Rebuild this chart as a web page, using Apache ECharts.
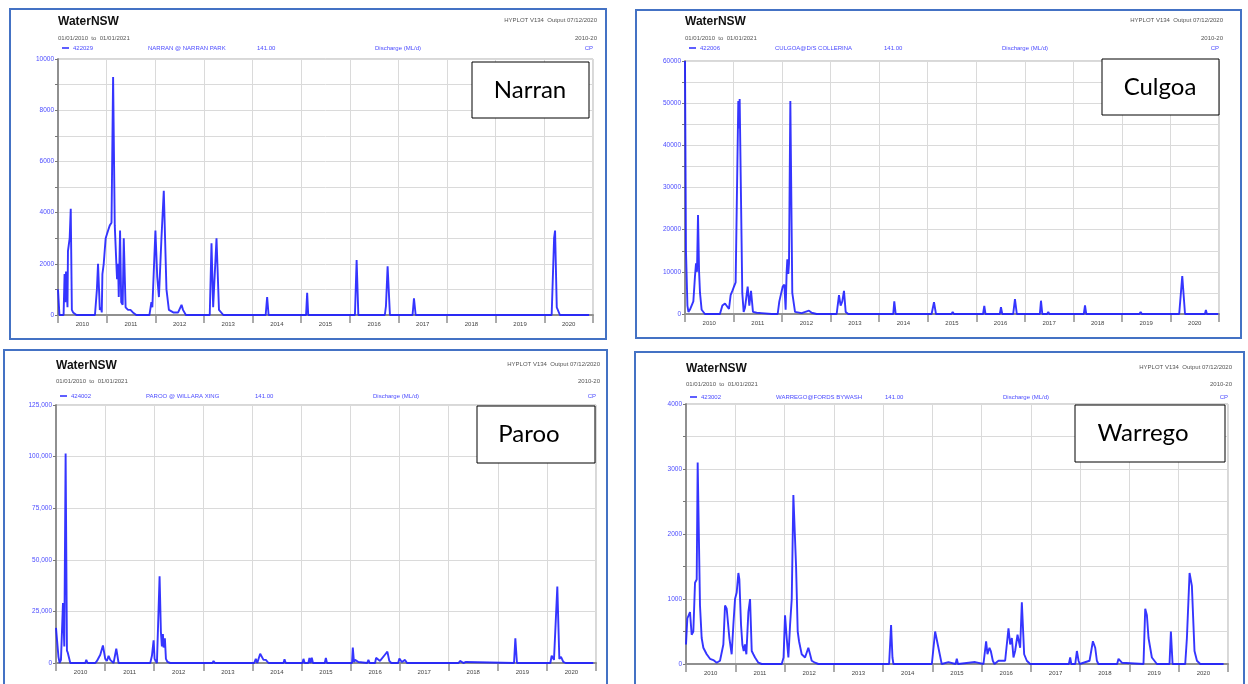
<!DOCTYPE html>
<html><head><meta charset="utf-8">
<script src="https://cdn.jsdelivr.net/npm/echarts@6/dist/echarts.min.js"></script>
<style>html,body{margin:0;padding:0;background:#fff}#c{width:1248px;height:684px}</style>
</head><body><div id="c"></div>
<script>
// ---------- data ----------
const yearLabels = ['2010','2011','2012','2013','2014','2015','2016','2017','2018','2019','2020'];
const narranYTicks = ['0','2000','4000','6000','8000','10000'];
const culgoaYTicks = ['0','10000','20000','30000','40000','50000','60000'];
const parooYTicks = ['0','25,000','50,000','75,000','100,000','125,000'];
const warregoYTicks = ['0','1000','2000','3000','4000'];

// [decimal year, discharge ML/d]
const narranFlow = [[2010.0,1000],[2010.03,0],[2010.115,0],[2010.135,1600],[2010.15,500],[2010.165,1700],[2010.185,1700],[2010.195,300],[2010.205,2500],[2010.24,3000],[2010.262,4150],[2010.285,200],[2010.31,100],[2010.38,0],
[2010.76,0],[2010.8,1000],[2010.823,2000],[2010.86,200],[2010.885,300],[2010.9,100],[2010.913,1600],[2010.94,2000],[2010.98,3000],[2011.03,3300],[2011.065,3500],[2011.1,3600],[2011.133,9300],[2011.167,3500],[2011.2,2000],[2011.214,1400],[2011.235,2000],[2011.249,700],[2011.276,3300],[2011.3,500],[2011.33,400],[2011.352,3000],[2011.39,300],[2011.44,200],[2011.49,200],[2011.54,100],[2011.61,0],
[2011.88,0],[2011.92,500],[2011.94,300],[2012.003,3300],[2012.04,1500],[2012.058,1500],[2012.075,700],[2012.127,3000],[2012.175,4850],[2012.23,1000],[2012.28,200],[2012.37,100],[2012.47,100],[2012.54,400],[2012.57,200],[2012.63,0],
[2013.12,0],[2013.156,2800],[2013.19,300],[2013.225,300],[2013.259,3000],[2013.31,200],[2013.4,0],
[2014.27,0],[2014.3,700],[2014.33,0],
[2015.10,0],[2015.123,870],[2015.145,0],
[2016.105,0],[2016.14,2150],[2016.175,0],
[2016.72,0],[2016.743,350],[2016.777,1900],[2016.825,0],
[2017.29,0],[2017.319,650],[2017.354,0],
[2020.15,0],[2020.2,3000],[2020.22,3300],[2020.255,300],[2020.268,300],[2020.32,0],[2020.92,0]];

const culgoaFlow = [[2010.0,60000],[2010.02,15000],[2010.05,2000],[2010.07,500],[2010.1,1000],[2010.14,1000],[2010.172,3000],[2010.206,9000],[2010.227,12000],[2010.247,10000],[2010.268,23500],[2010.29,10000],[2010.309,5000],[2010.343,1000],[2010.41,0],
[2010.72,0],[2010.77,2000],[2010.824,2500],[2010.858,2700],[2010.906,1200],[2010.94,4500],[2010.975,5500],[2011.009,6500],[2011.043,7500],[2011.098,50500],[2011.112,44000],[2011.126,51000],[2011.18,5000],[2011.208,500],[2011.236,1500],[2011.291,6500],[2011.325,2000],[2011.36,5500],[2011.4,500],[2011.476,300],[2011.58,200],[2011.785,0],
[2011.909,0],[2011.943,3000],[2012.012,6500],[2012.046,7000],[2012.073,1000],[2012.094,10000],[2012.108,13000],[2012.128,9500],[2012.142,12000],[2012.17,50500],[2012.21,5000],[2012.266,500],[2012.403,200],[2012.554,800],[2012.61,300],[2012.712,0],
[2013.124,0],[2013.172,4500],[2013.206,2000],[2013.24,3000],[2013.275,5500],[2013.31,500],[2013.364,0],
[2014.29,0],[2014.311,3000],[2014.34,0],
[2015.08,0],[2015.129,2800],[2015.17,0],[2015.49,0],[2015.514,500],[2015.54,0],
[2016.14,0],[2016.165,1900],[2016.19,0],[2016.485,0],[2016.509,1600],[2016.535,0],[2016.76,0],[2016.797,3550],[2016.835,0],
[2017.31,0],[2017.333,3150],[2017.36,0],[2017.46,0],[2017.483,500],[2017.505,0],
[2018.215,0],[2018.24,2050],[2018.265,0],
[2019.36,0],[2019.386,500],[2019.41,0],
[2020.18,0],[2020.243,9000],[2020.3,0],
[2020.71,0],[2020.73,950],[2020.75,0],[2020.985,0]];

const parooFlow = [[2010.0,17000],[2010.02,17000],[2010.05,3000],[2010.074,0],[2010.101,1500],[2010.121,1500],[2010.142,29000],[2010.169,8000],[2010.196,101500],[2010.223,6000],[2010.24,5000],[2010.257,5000],[2010.291,0],
[2010.597,0],[2010.617,1500],[2010.644,0],
[2010.8,0],[2010.834,1000],[2010.902,4000],[2010.956,8500],[2010.983,8000],[2011.003,2000],[2011.037,1000],[2011.071,3500],[2011.105,1500],[2011.139,1000],[2011.173,0],[2011.207,0],[2011.228,7000],[2011.275,0],
[2011.92,0],[2011.954,3500],[2011.988,11000],[2012.008,2000],[2012.056,0],[2012.09,0],[2012.11,42000],[2012.137,15000],[2012.157,8000],[2012.178,14000],[2012.191,7500],[2012.218,12000],[2012.239,2000],[2012.272,500],[2012.327,0],
[2013.19,0],[2013.209,1000],[2013.237,0],
[2014.037,0],[2014.07,2000],[2014.1,0],[2014.159,4500],[2014.193,4500],[2014.227,1500],[2014.275,1500],[2014.329,0],
[2014.634,0],[2014.655,1800],[2014.68,0],
[2015.02,0],[2015.041,2000],[2015.065,0],[2015.14,0],[2015.163,2500],[2015.185,0],[2015.21,2500],[2015.235,0],[2015.475,0],[2015.497,2500],[2015.52,0],
[2016.03,0],[2016.046,7500],[2016.07,500],[2016.093,1500],[2016.16,500],[2016.2,0],
[2016.34,0],[2016.364,1500],[2016.39,0],[2016.5,0],[2016.52,2500],[2016.6,1000],[2016.7,4000],[2016.75,5500],[2016.79,1000],[2016.83,0],
[2016.97,0],[2016.995,2200],[2017.044,500],[2017.11,1500],[2017.15,0],
[2017.94,0],[2017.96,800],[2017.98,0],[2018.2,0],[2018.23,1000],[2018.3,0],[2018.35,500],[2018.38,0],
[2019.33,0],[2019.357,12000],[2019.39,0],
[2020.07,0],[2020.097,3500],[2020.144,1500],[2020.212,37000],[2020.253,2000],[2020.287,3000],[2020.334,500],[2020.38,0],
[2020.64,0],[2020.66,300],[2020.68,0],[2020.945,0]];

const warregoFlow = [[2010.0,300],[2010.027,700],[2010.061,700],[2010.081,800],[2010.115,450],[2010.149,500],[2010.183,1250],[2010.217,1300],[2010.237,3100],[2010.284,900],[2010.318,400],[2010.352,250],[2010.42,150],[2010.487,80],[2010.555,60],[2010.623,20],[2010.69,50],[2010.724,80],[2010.758,300],[2010.792,900],[2010.826,850],[2010.86,850],[2010.88,400],[2010.927,150],[2010.961,600],[2010.995,1000],[2011.029,1100],[2011.063,1400],[2011.083,1300],[2011.117,600],[2011.144,300],[2011.171,200],[2011.198,300],[2011.225,150],[2011.266,800],[2011.3,1000],[2011.334,200],[2011.367,150],[2011.401,100],[2011.469,20],[2011.537,0],[2011.72,0],[2011.74,30],[2011.76,0],
[2011.943,0],[2011.98,100],[2012.01,750],[2012.044,400],[2012.078,100],[2012.112,600],[2012.146,1000],[2012.179,2600],[2012.213,2600],[2012.234,1500],[2012.267,500],[2012.294,350],[2012.348,150],[2012.416,100],[2012.483,250],[2012.518,150],[2012.551,50],[2012.619,20],[2012.687,0],
[2014.122,0],[2014.162,600],[2014.19,100],[2014.21,0],
[2014.99,0],[2015.056,500],[2015.19,0],[2015.326,30],[2015.35,0],[2015.47,0],[2015.496,80],[2015.52,0],[2015.868,30],[2015.9,0],
[2016.037,0],[2016.091,350],[2016.118,150],[2016.159,250],[2016.186,200],[2016.227,50],[2016.26,0],[2016.342,50],[2016.477,50],[2016.545,550],[2016.579,300],[2016.613,400],[2016.646,100],[2016.68,200],[2016.728,450],[2016.782,250],[2016.816,950],[2016.863,150],[2016.917,50],[2016.985,0],
[2017.77,0],[2017.797,100],[2017.82,0],[2017.9,0],[2017.933,200],[2017.967,50],[2017.99,0],
[2018.19,50],[2018.258,350],[2018.305,250],[2018.339,50],[2018.37,0],
[2018.75,0],[2018.778,80],[2018.846,20],[2018.87,0],
[2019.285,0],[2019.32,850],[2019.354,750],[2019.387,400],[2019.455,100],[2019.557,0],
[2019.813,0],[2019.841,500],[2019.875,0],
[2020.132,0],[2020.166,400],[2020.22,1400],[2020.267,1200],[2020.32,200],[2020.37,50],[2020.437,0],[2020.91,0]];

const gaugeIds = ['422029','422006','424002','423002'];
const siteNames = ['NARRAN @ NARRAN PARK','CULGOA@D/S COLLERINA','PAROO @ WILLARA XING','WARREGO@FORDS BYWASH'];
const riverNames = ['Narran','Culgoa','Paroo','Warrego'];

// ---------- layout ----------
const panels = [
  {data:narranFlow, ticks:narranYTicks, max:10000, step:1000,
   plot:[58,59,593,315], frame:[10,9,596,330], tag:[472,62,117,56], tagX:530, rows:[22,38,48]},
  {data:culgoaFlow, ticks:culgoaYTicks, max:60000, step:5000,
   plot:[685,61,1219,314], frame:[636,10,605,328], tag:[1102,59,117,56], tagX:1160, rows:[22,38,48]},
  {data:parooFlow, ticks:parooYTicks, max:125000, step:25000,
   plot:[56,405,596,663], frame:[4,350,603,345], tag:[477,406,118,57], tagX:529, rows:[366,381,396]},
  {data:warregoFlow, ticks:warregoYTicks, max:4000, step:500,
   plot:[686,404,1228,664], frame:[635,352,609,345], tag:[1075,405,150,57], tagX:1143, rows:[369,384,397]}
];

const FONT = '"Liberation Sans", Arial, sans-serif';
const BLUE_TXT = '#4b4bff';
const grids = [], xAxes = [], yAxes = [], series = [], graphics = [];

panels.forEach((p, i) => {
  const [L, T, R, B] = p.plot;
  grids.push({left: L, top: T, width: R - L, height: B - T, show: true, borderColor: '#b0b0b0', borderWidth: 1, containLabel: false});
  xAxes.push({type: 'value', gridIndex: i, min: 2010, max: 2021, interval: 1, position: 'bottom',
    axisLine: {show: true, lineStyle: {color: '#909090', width: 2}},
    axisTick: {show: true, length: 8, lineStyle: {color: '#909090', width: 1.5}},
    axisLabel: {show: false},
    splitLine: {show: true, lineStyle: {color: '#dadada', width: 1}}});
  xAxes.push({type: 'category', gridIndex: i, data: yearLabels, boundaryGap: true, position: 'bottom',
    axisLine: {show: false}, axisTick: {show: false}, splitLine: {show: false},
    axisLabel: {show: true, fontSize: 6, color: '#444', margin: 6, fontFamily: FONT}});
  const labelStep = p.max / (p.ticks.length - 1);
  yAxes.push({type: 'value', gridIndex: i, min: 0, max: p.max, interval: p.step,
    axisLine: {show: true, lineStyle: {color: '#909090', width: 2}},
    axisTick: {show: true, length: 3, lineStyle: {color: '#777'}},
    splitLine: {show: true, lineStyle: {color: '#dadada', width: 1}},
    axisLabel: {show: true, fontSize: 6.5, color: BLUE_TXT, margin: 4, fontFamily: FONT,
      formatter: v => (Math.abs(v / labelStep - Math.round(v / labelStep)) < 1e-6) ? p.ticks[Math.round(v / labelStep)] : ''}});
  series.push({type: 'line', xAxisIndex: 2 * i, yAxisIndex: i, data: p.data, showSymbol: false, symbol: 'none',
    lineStyle: {color: '#1f1fff', width: 1.9, opacity: 0.9}, animation: false, clip: true});

  // frame
  const [fx, fy, fw, fh] = p.frame;
  graphics.push({type: 'rect', shape: {x: fx, y: fy, width: fw, height: fh},
    style: {fill: 'none', stroke: '#4472c4', lineWidth: 2}, z: 100});
  // header
  const [r1, r2, r3] = p.rows;
  const txt = (x, y, s, opt) => graphics.push({type: 'text', x, y,
    style: Object.assign({text: s, fontFamily: FONT, fontSize: 6, fill: '#555', verticalAlign: 'middle', align: 'left'}, opt)});
  txt(L, r1, 'WaterNSW', {fontSize: 12, fontWeight: 'bold', fill: '#111'});
  txt(R + 4, r1 - 2, 'HYPLOT V134  Output 07/12/2020', {align: 'right'});
  txt(L, r2, '01/01/2010  to  01/01/2021');
  txt(R + 4, r2, '2010-20', {align: 'right'});
  graphics.push({type: 'line', shape: {x1: L + 4, y1: r3, x2: L + 11, y2: r3}, style: {stroke: '#2a2aff', lineWidth: 1.5}});
  txt(L + 15, r3, gaugeIds[i], {fill: BLUE_TXT});
  txt(L + 90, r3, siteNames[i], {fill: BLUE_TXT});
  txt(L + 199, r3, '141.00', {fill: BLUE_TXT});
  txt(L + 317, r3, 'Discharge (ML/d)', {fill: BLUE_TXT});
  txt(R, r3, 'CP', {fill: BLUE_TXT, align: 'right'});
  // river tag
  const [tx, ty, tw, th] = p.tag;
  graphics.push({type: 'rect', shape: {x: tx, y: ty, width: tw, height: th},
    style: {fill: '#fff', stroke: '#000', lineWidth: 1}, z: 50});
  graphics.push({type: 'text', x: p.tagX, y: ty + th / 2, z: 51,
    style: {text: riverNames[i], fontFamily: 'Lato, "Open Sans", sans-serif', fontSize: 24, fill: '#000', align: 'center', verticalAlign: 'middle'}});
});

const chart = echarts.init(document.getElementById('c'), null, {renderer: 'canvas'});
chart.setOption({animation: false, backgroundColor: '#fff', grid: grids, xAxis: xAxes, yAxis: yAxes, series, graphic: graphics});
</script></body></html>
